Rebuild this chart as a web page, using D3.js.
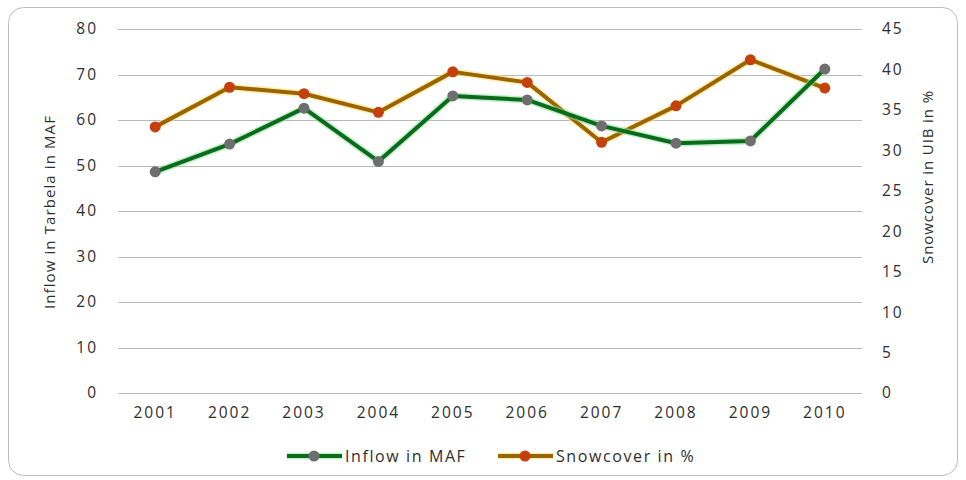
<!DOCTYPE html>
<html>
<head>
<meta charset="utf-8">
<script src="https://cdn.jsdelivr.net/npm/d3@7"></script>
<style>
  html, body { margin: 0; padding: 0; background: #fff; }
  svg text { font-family: "Open Sans", "Liberation Sans", sans-serif; fill: #2e2e2e; }
</style>
</head>
<body>
<div id="chart"></div>
<script>
// datos
const years = ['2001','2002','2003','2004','2005','2006','2007','2008','2009','2010'];
const inflow = [48.6, 54.7, 62.6, 50.9, 65.3, 64.4, 58.7, 54.9, 55.4, 71.2];
const snowcover = [32.9, 37.8, 37.0, 34.7, 39.7, 38.4, 31.0, 35.5, 41.2, 37.7];
const leftTicks = [0, 10, 20, 30, 40, 50, 60, 70, 80];
const rightTicks = [0, 5, 10, 15, 20, 25, 30, 35, 40, 45];

const W = 966, H = 480;
const m = { top: 29, right: 104, bottom: 87, left: 118 };
const iw = W - m.left - m.right, ih = H - m.top - m.bottom;

const svg = d3.select('#chart').append('svg').attr('width', W).attr('height', H);

// marco redondeado
svg.append('rect').attr('x', 8.5).attr('y', 7.5).attr('width', 949).attr('height', 468)
  .attr('rx', 15).attr('fill', '#fff').attr('stroke', '#bdbdbd').attr('stroke-width', 1);

const g = svg.append('g').attr('transform', `translate(${m.left},${m.top})`);

const x = d3.scaleBand().domain(years).range([0, iw]);
const yL = d3.scaleLinear().domain([0, 80]).range([ih, 0]);
const yR = d3.scaleLinear().domain([0, 45]).range([ih, 0]);
const cx = d => x(d) + x.bandwidth() / 2;

// rejilla
g.append('g').selectAll('line').data(leftTicks).join('line')
  .attr('x1', 0).attr('x2', iw)
  .attr('y1', d => Math.round(yL(d)) + 0.5).attr('y2', d => Math.round(yL(d)) + 0.5)
  .attr('stroke', '#b8b8b8').attr('stroke-width', 1);

// ejes
const axL = g.append('g').call(d3.axisLeft(yL).tickValues(leftTicks).tickSize(0).tickPadding(20));
const axR = g.append('g').attr('transform', `translate(${iw},0)`)
  .call(d3.axisRight(yR).tickValues(rightTicks).tickSize(0).tickPadding(20));
const axB = g.append('g').attr('transform', `translate(0,${ih})`)
  .call(d3.axisBottom(x).tickSize(0).tickPadding(14));
[axL, axR, axB].forEach(a => {
  a.select('.domain').remove();
  a.selectAll('text').style('font-size', '15.5px').style('fill', '#2e2e2e')
    .style('letter-spacing', '2px')
    .style('font-family', '"Open Sans", "Liberation Sans", sans-serif');
});

// títulos de ejes
svg.append('text').attr('transform', 'translate(55,212) rotate(-90)')
  .attr('text-anchor', 'middle').style('font-size', '15px').style('letter-spacing', '1.1px')
  .text('Inflow in Tarbela in MAF');
svg.append('text').attr('transform', 'translate(933,177) rotate(-90)')
  .attr('text-anchor', 'middle').style('font-size', '15px').style('letter-spacing', '0.9px')
  .text('Snowcover in UIB in %');

// series
const series = [
  { name: 'Inflow in MAF', vals: inflow, y: yL, line: '#0b6a1c', glow: '#8fe39a', dot: '#6e6e6e' },
  { name: 'Snowcover in %', vals: snowcover, y: yR, line: '#9a6400', glow: '#ffe27a', dot: '#c4400c' }
];

series.slice().reverse().forEach(s => {
  const line = d3.line().x((d, i) => cx(years[i])).y(d => s.y(d));
  g.append('path').datum(s.vals).attr('d', line).attr('fill', 'none')
    .attr('stroke', s.glow).attr('stroke-width', 7).attr('stroke-opacity', 0.55).attr('stroke-linejoin', 'round');
  g.append('path').datum(s.vals).attr('d', line).attr('fill', 'none')
    .attr('stroke', s.line).attr('stroke-width', 4).attr('stroke-linejoin', 'round');
  g.append('g').selectAll('circle').data(s.vals).join('circle')
    .attr('cx', (d, i) => cx(years[i])).attr('cy', d => s.y(d)).attr('r', 5.5)
    .attr('fill', s.dot);
});

// leyenda
const legX = [287, 498];
const leg = svg.append('g').attr('transform', 'translate(0,456)');
series.forEach((s, i) => {
  const lg = leg.append('g').attr('transform', `translate(${legX[i]},0)`);
  lg.append('line').attr('x1', 0).attr('x2', 55).attr('y1', 0).attr('y2', 0)
    .attr('stroke', s.glow).attr('stroke-width', 7).attr('stroke-opacity', 0.55);
  lg.append('line').attr('x1', 0).attr('x2', 55).attr('y1', 0).attr('y2', 0)
    .attr('stroke', s.line).attr('stroke-width', 4);
  lg.append('circle').attr('cx', 27).attr('cy', 0).attr('r', 5.5).attr('fill', s.dot);
  lg.append('text').attr('x', 58).attr('y', 6).style('font-size', '16px').style('letter-spacing', '1.6px')
    .text(s.name);
});
</script>
</body>
</html>
